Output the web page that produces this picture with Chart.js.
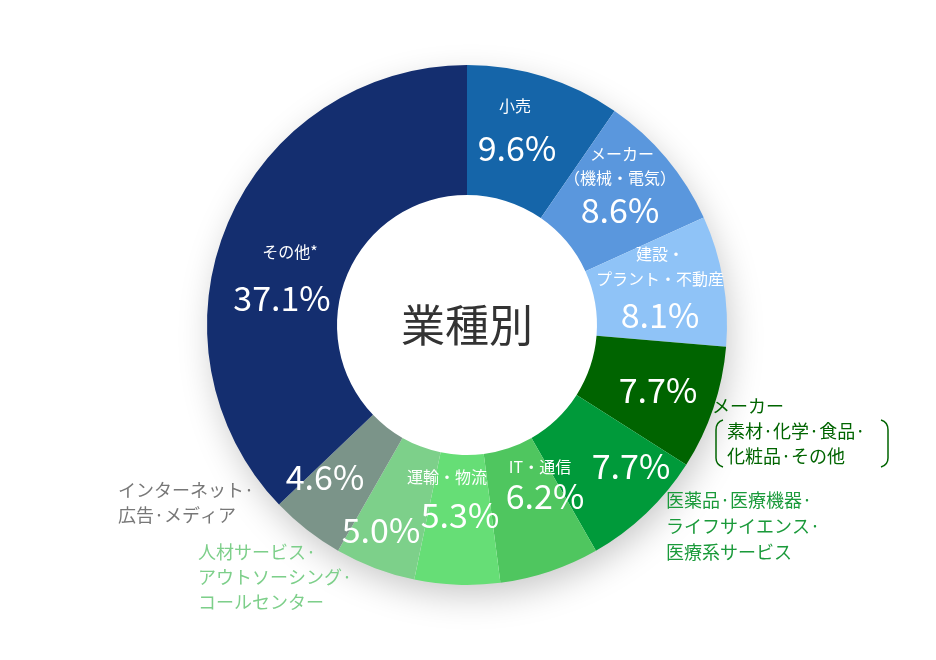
<!DOCTYPE html>
<html><head><meta charset="utf-8">
<script src="https://cdn.jsdelivr.net/npm/chart.js@4"></script>
<style>html,body{margin:0;background:#fff}</style></head>
<body><canvas id="c" width="936" height="660"></canvas>
<script>
const categories = ["小売","メーカー（機械・電気）","建設・プラント・不動産","メーカー（素材・化学・食品・化粧品・その他）","医薬品・医療機器・ライフサイエンス・医療系サービス","IT・通信","運輸・物流","人材サービス・アウトソーシング・コールセンター","インターネット・広告・メディア","その他*"];
const values = [9.6,8.6,8.1,7.7,7.7,6.2,5.3,5.0,4.6,37.1];
const colors = ["#1565a9","#5a97dd","#8fc3f7","#006400","#009a3a","#4fc65f","#66de76","#7dd08a","#7b9489","#142e6f"];
const F = '"Noto Sans CJK JP","Noto Sans",sans-serif';

const shadow = {id:'shadow', beforeDatasetsDraw(ch){
  const a=ch.getDatasetMeta(0).data[0]; const c=ch.ctx; c.save();
  c.shadowColor='rgba(0,0,0,0.22)'; c.shadowBlur=35; c.shadowOffsetY=12; c.shadowOffsetX=4;
  c.fillStyle='#fff'; c.beginPath(); c.arc(a.x,a.y,a.outerRadius-2,0,Math.PI*2); c.fill(); c.restore();
}};
const labels = {id:'labels', afterDatasetsDraw(ch){
  const c=ch.ctx; const a=ch.getDatasetMeta(0).data[0];
  const t=(s,x,y,sz,col,al)=>{c.font=sz+'px '+F;c.fillStyle=col;c.textAlign=al||'center';c.textBaseline='middle';c.fillText(s,x,y);};
  c.save();
  t('業種別',a.x,a.y,44,'#333');
  const W='#fff', P=34;
  t('小売',515,106,16,W); t(values[0].toFixed(1)+'%',517,148,P,W);
  t('メーカー',622,154,16,W); t('（機械・電気）',620,178,16,W); t(values[1].toFixed(1)+'%',620,210,P,W);
  t('建設・',660,254,16,W); t('プラント・不動産',660,279,16,W); t(values[2].toFixed(1)+'%',660,315,P,W);
  t(values[3].toFixed(1)+'%',658,390,P,W);
  t(values[4].toFixed(1)+'%',631,466,P,W);
  t('IT・通信',540,467,16,W); t(values[5].toFixed(1)+'%',545,496,P,W);
  t('運輸・物流',447,477,16,W); t(values[6].toFixed(1)+'%',460,515,P,W);
  t(values[7].toFixed(1)+'%',381,530,P,W);
  t(values[8].toFixed(1)+'%',325,477,P,W);
  t('その他*',290,252,16,W); t(values[9].toFixed(1)+'%',282,298,P,W);
  const DG='#006400';
  t('メーカー',712,406,18,DG,'left'); t('素材·化学·食品·',727,431,18,DG,'left'); t('化粧品·その他',727,456,18,DG,'left');
  c.strokeStyle=DG; c.lineWidth=1.5;
  c.beginPath(); c.moveTo(723,420); c.quadraticCurveTo(716,422,716,430); c.lineTo(716,458); c.quadraticCurveTo(716,465,723,467); c.stroke();
  c.beginPath(); c.moveTo(881,420); c.quadraticCurveTo(888,422,888,430); c.lineTo(888,458); c.quadraticCurveTo(888,465,881,467); c.stroke();
  const G='#1a9a3a';
  t('医薬品·医療機器·',666,500,18,G,'left'); t('ライフサイエンス·',666,526,18,G,'left'); t('医療系サービス',666,552,18,G,'left');
  const GR='#777';
  t('インターネット·',118,490,18,GR,'left'); t('広告·メディア',118,515,18,GR,'left');
  const LG='#7dcf8a';
  t('人材サービス·',198,552,18,LG,'left'); t('アウトソーシング·',198,577,18,LG,'left'); t('コールセンター',198,602,18,LG,'left');
  c.restore();
}};
new Chart(document.getElementById('c'),{
  type:'doughnut',
  data:{labels:categories,datasets:[{data:values,backgroundColor:colors,borderWidth:0}]},
  options:{responsive:false,animation:false,cutout:'50%',
    layout:{padding:{left:207,right:209,top:65,bottom:75}},
    plugins:{legend:{display:false},tooltip:{enabled:false}}},
  plugins:[shadow,labels]
});
</script></body></html>
